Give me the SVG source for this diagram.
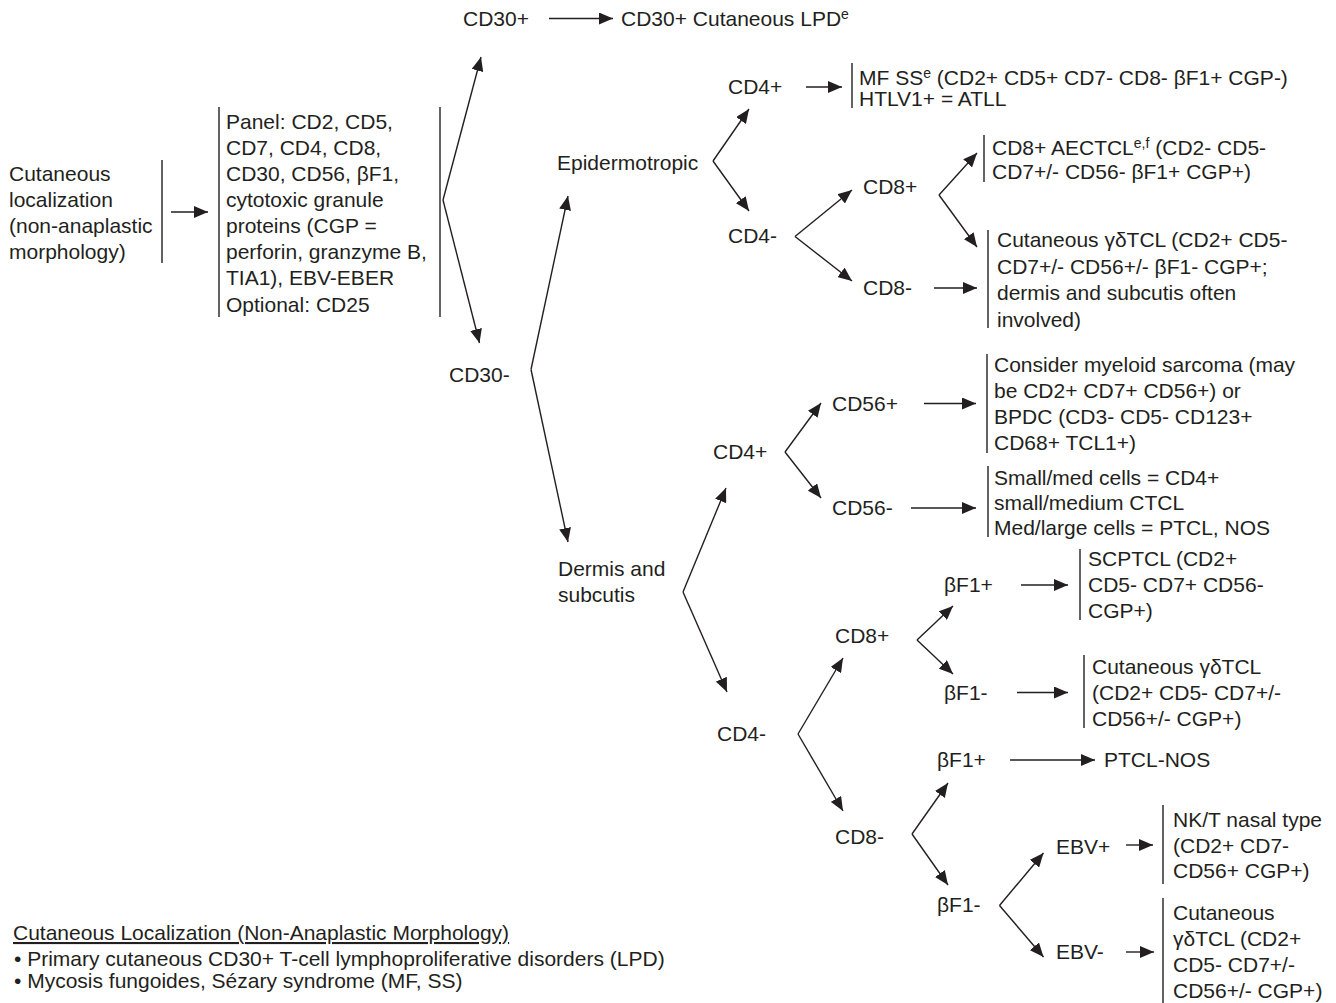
<svg xmlns="http://www.w3.org/2000/svg" width="1336" height="1003" viewBox="0 0 1336 1003">
<style>
text{font-family:"Liberation Sans",Arial,Helvetica,sans-serif;font-size:21px;fill:#231f20}
.sup{font-size:14px}
.bar{stroke:#231f20;stroke-width:1.4;fill:none}
.c line{stroke:#231f20;stroke-width:1.4;fill:none;marker-end:url(#ah)}
</style>
<defs>
<marker id="ah" markerWidth="14" markerHeight="12" refX="14" refY="6" orient="auto" markerUnits="userSpaceOnUse"><path d="M0,0 L14,6 L0,12 z" fill="#231f20"/></marker>
</defs>
<rect width="1336" height="1003" fill="#ffffff"/>

<g id="n-cutaneous"><text x="9" y="181">Cutaneous</text><text x="9" y="207">localization</text><text x="9" y="233">(non-anaplastic</text><text x="9" y="259">morphology)</text><line class="bar" x1="162" y1="160" x2="162" y2="263"/></g>
<g id="n-panel"><line class="bar" x1="219" y1="107" x2="219" y2="317"/><line class="bar" x1="440" y1="107" x2="440" y2="317"/>
<text x="226" y="129">Panel: CD2, CD5,</text><text x="226" y="155">CD7, CD4, CD8,</text><text x="226" y="181">CD30, CD56, βF1,</text><text x="226" y="207">cytotoxic granule</text><text x="226" y="233">proteins (CGP =</text><text x="226" y="259">perforin, granzyme B,</text><text x="226" y="285">TIA1), EBV-EBER</text><text x="226" y="312">Optional: CD25</text></g>
<g id="n-cd30pos"><text x="463" y="26">CD30+</text></g>
<g id="n-lpd"><text x="621" y="26">CD30+ Cutaneous LPD<tspan class="sup" dy="-7">e</tspan></text></g>
<g id="n-cd30neg"><text x="449" y="382">CD30-</text></g>
<g id="n-epi"><text x="557" y="170">Epidermotropic</text></g>
<g id="n-dermis"><text x="558" y="576">Dermis and</text><text x="558" y="602">subcutis</text></g>

<g id="n-epi-cd4pos"><text x="728" y="94">CD4+</text></g>
<g id="n-mfss"><line class="bar" x1="852" y1="63" x2="852" y2="108"/><text x="859" y="85">MF SS<tspan class="sup" dy="-7">e</tspan><tspan dy="7"> (CD2+ CD5+ CD7- CD8- βF1+ CGP-)</tspan></text><text x="859" y="106">HTLV1+ = ATLL</text></g>
<g id="n-epi-cd4neg"><text x="728" y="243">CD4-</text></g>
<g id="n-epi-cd8pos"><text x="863" y="194">CD8+</text></g>
<g id="n-epi-cd8neg"><text x="863" y="295">CD8-</text></g>
<g id="n-aectcl"><line class="bar" x1="984" y1="135" x2="984" y2="182"/><text x="992" y="155">CD8+ AECTCL<tspan class="sup" dy="-7">e,f</tspan><tspan dy="7"> (CD2- CD5-</tspan></text><text x="992" y="179">CD7+/- CD56- βF1+ CGP+)</text></g>
<g id="n-gd1"><line class="bar" x1="988" y1="230" x2="988" y2="328"/><text x="997" y="247">Cutaneous γδTCL (CD2+ CD5-</text><text x="997" y="273.5">CD7+/- CD56+/- βF1- CGP+;</text><text x="997" y="300">dermis and subcutis often</text><text x="997" y="326.5">involved)</text></g>

<g id="n-der-cd4pos"><text x="713" y="459">CD4+</text></g>
<g id="n-cd56pos"><text x="832" y="411">CD56+</text></g>
<g id="n-cd56neg"><text x="832" y="515">CD56-</text></g>
<g id="n-myeloid"><line class="bar" x1="987" y1="354" x2="987" y2="453"/><text x="994" y="372">Consider myeloid sarcoma (may</text><text x="994" y="398">be CD2+ CD7+ CD56+) or</text><text x="994" y="424">BPDC (CD3- CD5- CD123+</text><text x="994" y="450">CD68+ TCL1+)</text></g>
<g id="n-smallmed"><line class="bar" x1="988" y1="466" x2="988" y2="537"/><text x="994" y="485">Small/med cells = CD4+</text><text x="994" y="510">small/medium CTCL</text><text x="994" y="535">Med/large cells = PTCL, NOS</text></g>
<g id="n-der-cd4neg"><text x="717" y="741">CD4-</text></g>
<g id="n-der-cd8pos"><text x="835" y="643">CD8+</text></g>
<g id="n-bf1pos-a"><text x="944" y="592">βF1+</text></g>
<g id="n-bf1neg-a"><text x="944" y="700">βF1-</text></g>
<g id="n-scptcl"><line class="bar" x1="1080" y1="549" x2="1080" y2="620"/><text x="1088" y="566">SCPTCL (CD2+</text><text x="1088" y="592">CD5- CD7+ CD56-</text><text x="1088" y="618">CGP+)</text></g>
<g id="n-gd2"><line class="bar" x1="1084" y1="655" x2="1084" y2="728"/><text x="1092" y="674">Cutaneous γδTCL</text><text x="1092" y="700">(CD2+ CD5- CD7+/-</text><text x="1092" y="726">CD56+/- CGP+)</text></g>
<g id="n-der-cd8neg"><text x="835" y="844">CD8-</text></g>
<g id="n-bf1pos-b"><text x="937" y="767">βF1+</text></g>
<g id="n-ptcl"><text x="1104" y="767">PTCL-NOS</text></g>
<g id="n-bf1neg-b"><text x="937" y="912">βF1-</text></g>
<g id="n-ebvpos"><text x="1056" y="854">EBV+</text></g>
<g id="n-ebvneg"><text x="1056" y="959">EBV-</text></g>
<g id="n-nkt"><line class="bar" x1="1163" y1="805" x2="1163" y2="884"/><text x="1173" y="827">NK/T nasal type</text><text x="1173" y="852.5">(CD2+ CD7-</text><text x="1173" y="878">CD56+ CGP+)</text></g>
<g id="n-gd3"><line class="bar" x1="1163" y1="898" x2="1163" y2="1003"/><text x="1173" y="920">Cutaneous</text><text x="1173" y="946">γδTCL (CD2+</text><text x="1173" y="972">CD5- CD7+/-</text><text x="1173" y="998">CD56+/- CGP+)</text></g>

<g id="legend"><text x="13" y="940" text-decoration="underline">Cutaneous Localization (Non-Anaplastic Morphology)</text><text x="14" y="966">• Primary cutaneous CD30+ T-cell lymphoproliferative disorders (LPD)</text><text x="14" y="988">• Mycosis fungoides, Sézary syndrome (MF, SS)</text></g>

<g id="connectors" class="c">
<line x1="549" y1="18.5" x2="613" y2="18.5"/>
<line x1="171" y1="212" x2="208" y2="212"/>
<line x1="806" y1="87" x2="842" y2="87"/>
<line x1="934" y1="288" x2="977" y2="288"/>
<line x1="924" y1="403.5" x2="976" y2="403.5"/>
<line x1="911" y1="508" x2="976" y2="508"/>
<line x1="1021" y1="585" x2="1068" y2="585"/>
<line x1="1017" y1="692.5" x2="1068" y2="692.5"/>
<line x1="1010" y1="760" x2="1095" y2="760"/>
<line x1="1126" y1="845" x2="1153" y2="845"/>
<line x1="1126" y1="952" x2="1154" y2="952"/>
<line x1="443" y1="200" x2="481" y2="57"/>
<line x1="443" y1="200" x2="479.5" y2="343"/>
<line x1="531" y1="369.5" x2="568" y2="196"/>
<line x1="531" y1="369.5" x2="568" y2="542"/>
<line x1="713" y1="161" x2="749" y2="109"/>
<line x1="713" y1="161" x2="749" y2="211"/>
<line x1="795" y1="236.5" x2="852" y2="190"/>
<line x1="795" y1="236.5" x2="852" y2="281"/>
<line x1="939" y1="195" x2="977" y2="153"/>
<line x1="939" y1="195" x2="977" y2="247"/>
<line x1="683" y1="592" x2="726" y2="488"/>
<line x1="683" y1="592" x2="727" y2="692"/>
<line x1="785" y1="452" x2="821" y2="403"/>
<line x1="785" y1="452" x2="821" y2="498"/>
<line x1="798" y1="734" x2="843" y2="658"/>
<line x1="798" y1="734" x2="843" y2="811"/>
<line x1="917" y1="640" x2="953" y2="606"/>
<line x1="917" y1="640" x2="953" y2="674"/>
<line x1="912" y1="834" x2="948" y2="783"/>
<line x1="912" y1="834" x2="948" y2="885"/>
<line x1="999.5" y1="905.5" x2="1043.5" y2="853"/>
<line x1="999.5" y1="905.5" x2="1043.5" y2="957"/>
</g>
</svg>
